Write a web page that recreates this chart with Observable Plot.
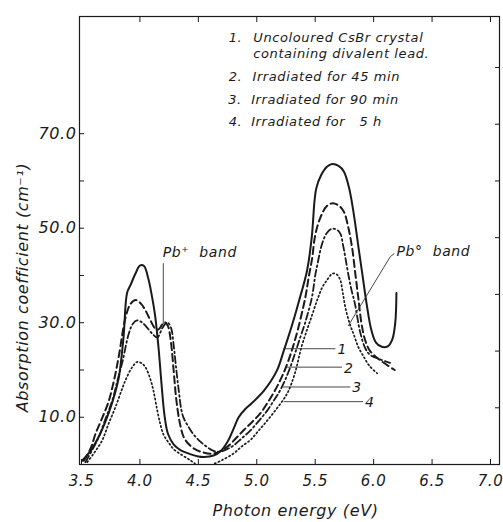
<!DOCTYPE html>
<html><head><meta charset="utf-8">
<script src="https://cdn.jsdelivr.net/npm/d3@7"></script>
<script src="https://cdn.jsdelivr.net/npm/@observablehq/plot@0.6"></script>
<style>
html,body{margin:0;padding:0;background:#fff;}
</style>
</head><body><div id="chart"></div>
<script>
// Curve 1: uncoloured crystal (solid)
const energy1 = [3.505,3.58,3.66,3.73,3.78,3.82,3.86,3.89,3.92,3.96,4.0,4.035,4.07,4.10,4.13,4.16,4.185,4.21,4.24,4.29,4.35,4.43,4.50,4.55,4.63,4.69,4.75,4.80,4.845,4.90,4.95,5.00,5.06,5.12,5.18,5.23,5.27,5.32,5.36,5.43,5.47,5.495,5.51,5.55,5.60,5.645,5.70,5.745,5.79,5.83,5.87,5.905,5.94,5.98,6.02,6.07,6.12,6.16,6.185,6.195];
const absorb1 = [0.8,3.0,6.5,10.7,14.5,18.5,27,36.3,38,40.3,42.1,42,39.5,36,31.5,24.5,17,10.5,6.5,4.2,3.0,2.2,1.7,1.6,1.9,2.8,4.8,7.5,10.0,11.7,12.8,14.0,15.6,17.6,20.3,24.0,27.0,31.0,34.5,41,48,56,58.5,61.2,63,63.6,63.2,62.0,58.5,53,46,40,34,28.5,25.8,24.9,25.0,26.5,30,36.3];
// Curve 2: irradiated 45 min (dashed)
const energy2 = [3.52,3.58,3.62,3.68,3.734,3.78,3.82,3.876,3.92,3.965,4.01,4.05,4.09,4.13,4.16,4.19,4.215,4.24,4.265,4.29,4.31,4.34,4.375,4.43,4.49,4.55,4.60,4.66,4.75,4.82,4.89,4.96,5.03,5.09,5.145,5.20,5.25,5.33,5.415,5.444,5.473,5.50,5.545,5.60,5.65,5.70,5.745,5.78,5.815,5.845,5.87,5.895,5.925,5.97,6.06,6.18];
const absorb2 = [0.8,3.5,6.5,10,13.5,18,23,31,34,34.8,34,32.5,30.5,28.8,28.6,29.6,30.1,29.3,26,19.5,14,9,5.8,4.0,3.0,2.5,2.3,2.5,3.8,5.5,7.3,9,10.8,13,15.2,17.8,20.6,26.6,35.3,39.6,43.5,48.5,52.3,54.7,55.3,54.8,53.5,50.5,46,40,35,30,26.5,24.0,22,20.0];
// Curve 3: irradiated 90 min (dash-dot)
const energy3 = [3.534,3.59,3.648,3.70,3.763,3.81,3.848,3.905,3.94,3.976,4.01,4.047,4.105,4.148,4.195,4.233,4.265,4.29,4.305,4.332,4.355,4.375,4.42,4.46,4.52,4.575,4.63,4.68,4.75,4.80,4.87,4.946,5.02,5.089,5.15,5.20,5.25,5.30,5.36,5.42,5.473,5.50,5.516,5.559,5.60,5.645,5.69,5.716,5.74,5.76,5.785,5.81,5.84,5.885,5.93,5.97,6.05,6.14];
const absorb3 = [0.5,3,5.8,9.3,13.5,18,21.5,27.7,29.8,30.5,30.2,29.4,27.7,26.9,29.0,30.1,29.0,25,21.5,15.7,11.5,9.8,7.8,6.3,4.8,3.7,2.9,2.7,3.3,4.0,5.5,7.2,9.3,11.4,13.7,15.7,18.3,21.5,26.0,30.5,35.5,40,42,46.7,49,49.9,49.6,48.8,46.2,43.5,40,37,34,28.0,24.5,23.2,22.3,21.5];
// Curve 4: irradiated 5 h (dotted)
const energy4 = [3.549,3.61,3.677,3.73,3.79,3.84,3.876,3.934,3.976,4.01,4.047,4.09,4.115,4.148,4.175,4.204,4.25,4.29,4.36,4.43,4.47,4.55,4.64,4.70,4.80,4.87,4.95,5.02,5.09,5.16,5.23,5.27,5.326,5.385,5.43,5.473,5.52,5.561,5.60,5.649,5.685,5.715,5.735,5.76,5.795,5.83,5.87,5.913,5.96,6.03];
const absorb4 = [0.5,2.5,5.1,8.5,12.1,15.5,17.8,20.6,21.7,21.5,20.6,18,15.7,11.5,8.5,6.2,4.5,3.2,2.0,0.9,0.2,NaN,0.2,0.9,2.3,3.8,5.3,7.3,9.3,11.5,13.8,15.5,19.3,25.1,28.5,31.6,35,37.5,39,40.4,40.2,39,36.5,33,29.8,27.5,24.8,22.9,21,19.3];

// Axis ticks
const xTicks = [3.5,4.0,4.5,5.0,5.5,6.0,6.5,7.0];
const xTopTicks = [4.0,4.5,5.0,5.5,6.0,6.5,7.0];
const yTicks = [10,20,30,40,50,60,70];
const yLabelTicks = [10,30,50,70];
const yRightTicks = [12,24,36,48,60,72,84];
const xTitle = "Photon energy (eV)";
const yTitle = "Absorption coefficient (cm\u207B\u00B9)";

// Legend text (annotation)
const legendNums = ["1.","2.","3.","4."];
const legendNumX = [4.76,4.76,4.755,4.76];
const legendNumY = [90.2,82.1,77.2,72.6];
const legendTexts = ["Uncoloured CsBr crystal","containing divalent lead.","Irradiated for 45 min","Irradiated for 90 min","Irradiated for \u00A0 5 h"];
const legendTextX = [4.97,4.97,4.963,4.952,4.952];
const legendTextY = [90.2,86.8,82.1,77.2,72.6];

// Curve leaders
const leaderLabels = ["1","2","3","4"];
const leaderX1 = [5.228,5.254,5.217,5.23];
const leaderX2 = [5.673,5.73,5.80,5.91];
const leaderY = [24.5,20.6,16.4,13.3];

// Band annotations
const bandLabels = ["Pb\u207A \u00A0band","Pb\u00B0 \u00A0band"];
const bandX = [4.195,6.195];
const bandY = [44.9,45.1];
const pbPlusX = [4.20,4.20];
const pbPlusY = [42.5,29.8];
const pbZeroX = [5.784,6.143,6.175];
const pbZeroY = [29.4,44.0,44.6];

const toRows = (xs, ys) => xs.map((x, i) => ({x, y: ys[i]}));
const s1 = toRows(energy1, absorb1);
const s2 = toRows(energy2, absorb2);
const s3 = toRows(energy3, absorb3);
const s4 = toRows(energy4, absorb4);
const legendNumRows = legendNums.map((t, i) => ({t, x: legendNumX[i], y: legendNumY[i]}));
const legendTextRows = legendTexts.map((t, i) => ({t, x: legendTextX[i], y: legendTextY[i]}));
const leaderRows = leaderLabels.map((t, i) => ({t, x1: leaderX1[i], x2: leaderX2[i], y: leaderY[i]}));
const bandRows = bandLabels.map((t, i) => ({t, x: bandX[i], y: bandY[i]}));

const ink = "#1a1a1a";
const fmt = d3.format(".1f");

const chart = Plot.plot({
  width: 503, height: 522,
  marginLeft: 79, marginRight: 4, marginTop: 16, marginBottom: 58,
  style: {fontFamily: "'DejaVu Sans', sans-serif", fontStyle: "italic", fontSize: "14px", color: ink, background: "white", letterSpacing: "0.6px"},
  x: {domain: [3.483, 7.077]},
  y: {domain: [0, 94.8]},
  marks: [
    Plot.axisX(xTicks, {anchor: "bottom", tickSize: -5, tickPadding: 16, tickFormat: fmt, label: null, fontSize: 15, stroke: ink}),
    Plot.axisX(xTopTicks, {anchor: "top", tickSize: -5, tickFormat: () => "", label: null, stroke: ink}),
    Plot.axisY(yTicks, {anchor: "left", tickSize: -5, tickFormat: () => "", label: null, stroke: ink}),
    Plot.axisY(yLabelTicks, {anchor: "left", tickSize: 0, tickPadding: 3, tickFormat: fmt, label: null, fontSize: 16}),
    Plot.axisY(yRightTicks, {anchor: "right", tickSize: -5, tickFormat: () => "", label: null, stroke: ink}),
    Plot.frame({stroke: ink, strokeWidth: 1.2}),
    Plot.text([xTitle], {frameAnchor: "bottom", textAnchor: "middle", lineAnchor: "middle", dx: 6, dy: 46, fontSize: 16, fill: ink, style: "letter-spacing:1.6px"}),
    Plot.text([yTitle], {frameAnchor: "left", textAnchor: "middle", lineAnchor: "middle", rotate: -90, dx: -57, dy: 47, fontSize: 16, fill: ink}),
    Plot.line(s1, {x: "x", y: "y", curve: "catmull-rom", stroke: ink, strokeWidth: 2}),
    Plot.line(s2, {x: "x", y: "y", curve: "catmull-rom", stroke: ink, strokeWidth: 2, strokeDasharray: "7,4"}),
    Plot.line(s3, {x: "x", y: "y", curve: "catmull-rom", stroke: ink, strokeWidth: 1.8, strokeDasharray: "7,3,1.6,3"}),
    Plot.line(s4, {x: "x", y: "y", curve: "catmull-rom", stroke: ink, strokeWidth: 1.7, strokeDasharray: "1.3,2.7"}),
    Plot.link(leaderRows, {x1: "x1", x2: "x2", y1: "y", y2: "y", stroke: "#333", strokeWidth: 0.9}),
    Plot.text(leaderRows, {x: "x2", y: "y", text: "t", textAnchor: "start", dx: 2, dy: 1, fontSize: 14, fill: ink}),
    Plot.line(toRows(pbPlusX, pbPlusY), {x: "x", y: "y", stroke: "#333", strokeWidth: 0.9}),
    Plot.line(toRows(pbZeroX, pbZeroY), {x: "x", y: "y", stroke: "#333", strokeWidth: 0.9}),
    Plot.text(bandRows, {x: "x", y: "y", text: "t", textAnchor: "start", fontSize: 14, fill: ink}),
    Plot.text(legendNumRows, {x: "x", y: "y", text: "t", textAnchor: "start", fontSize: 13, fill: ink}),
    Plot.text(legendTextRows, {x: "x", y: "y", text: "t", textAnchor: "start", fontSize: 13, fill: ink, style: "letter-spacing:1.1px"})
  ]
});
document.getElementById("chart").appendChild(chart);
</script>
</body></html>
